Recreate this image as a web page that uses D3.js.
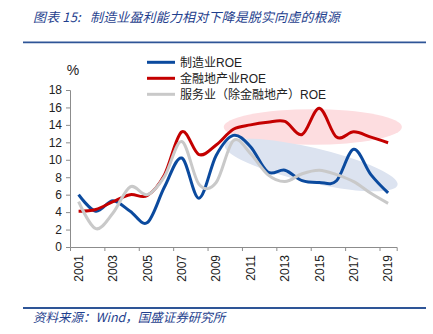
<!DOCTYPE html>
<html>
<head>
<meta charset="utf-8">
<script src="https://cdn.jsdelivr.net/npm/d3@7"></script>
<style>
  html, body { margin: 0; padding: 0; background: #fff; }
  svg { display: block; font-family: "Liberation Sans", Arial, "Noto Sans CJK SC", sans-serif; }
  .cjk { font-family: "Liberation Sans", Arial, "Noto Sans CJK SC", sans-serif; }
</style>
</head>
<body>
<div id="chart"></div>
<script>
// 制造业 / 金融地产业 / 服务业 ROE, 2001–2019 (%)
const YEARS = d3.range(2001, 2020);
const LABEL_YEARS = ["2001","2003","2005","2007","2009","2011","2013","2015","2017","2019"];
const Y_TICKS = [0, 2, 4, 6, 8, 10, 12, 14, 16, 18];

const MANUFACTURING = [6.0, 4.1, 5.3, 4.1, 2.8, 6.9, 10.2, 5.6, 10.5, 12.8, 11.5, 8.6, 8.8, 7.6, 7.4, 7.6, 11.2, 8.3, 6.2];
const FINANCE_RE    = [4.1, 4.3, 5.2, 6.0, 5.9, 8.3, 13.2, 10.6, 11.7, 13.5, 14.0, 14.3, 14.4, 12.9, 15.9, 12.6, 13.2, 12.6, 11.95];
const SERVICES      = [5.2, 2.1, 3.9, 6.9, 6.0, 8.1, 12.1, 7.2, 7.4, 12.2, 10.7, 8.3, 7.5, 8.4, 8.8, 8.3, 7.5, 6.15, 5.0];

const SERIES_NAMES = ["制造业ROE", "金融地产业ROE", "服务业（除金融地产）ROE"];
const COLORS = ["#0B4A9E", "#C40000", "#C9C9C9"];

// highlight bands: [startYear, startValue, endYear, endValue, halfWidth(value units)]
const FIN_BAND = [2009.44, 13.76, 2019.8, 13.76, 2.04];
const MFG_BAND = [2009.5, 11.7, 2019.55, 7.1, 2.0];
const BAND_FILLS = ["#FDDDE0", "#DCE3F0"];

function drawChart() {
  const totalW = 433, totalH = 334;
  const margin = { top: 90, right: 36.3, bottom: 87, left: 70 };
  const W = totalW - margin.left - margin.right;
  const H = totalH - margin.top - margin.bottom;

  const svg = d3.select("#chart").append("svg")
    .attr("width", totalW).attr("height", totalH);

  svg.append("rect").attr("width", totalW).attr("height", totalH).attr("fill", "#fff");

  /* ── Header / footer ── */
  const navy = "#1F3F8E";
  const title = svg.append("text").attr("y", 22)
    .attr("font-size", 13).attr("font-style", "italic").attr("fill", navy)
    .attr("font-family", "\"Noto Sans CJK SC\", sans-serif")
    .attr("letter-spacing", 0.15);
  title.append("tspan").attr("x", 33).text("图表 15:");
  title.append("tspan").attr("x", 90).text("制造业盈利能力相对下降是脱实向虚的根源");

  svg.append("line").attr("x1", 23).attr("x2", 426).attr("y1", 42.3).attr("y2", 42.3)
    .attr("stroke", "#2E5597").attr("stroke-width", 1.8);

  svg.append("line").attr("x1", 23).attr("x2", 426).attr("y1", 308).attr("y2", 308)
    .attr("stroke", "#2E5597").attr("stroke-width", 1.8);
  svg.append("text").attr("x", 33).attr("y", 322)
    .attr("font-size", 12.5).attr("font-style", "italic").attr("fill", navy)
    .attr("font-family", "\"Noto Sans CJK SC\", sans-serif")
    .text("资料来源：Wind，国盛证券研究所");

  const g = svg.append("g").attr("transform", `translate(${margin.left},${margin.top})`);

  /* ── Scales ── */
  const x = d3.scaleLinear().domain([2000.5, 2019.5]).range([0, W]);
  const y = d3.scaleLinear().domain([0, 18]).range([H, 0]);

  /* ── Highlight ellipses ── */
  [FIN_BAND, MFG_BAND].forEach((b, i) => {
    const [x0, v0, x1, v1, hw] = b;
    const px0 = x(x0), py0 = y(v0), px1 = x(x1), py1 = y(v1);
    const rx = Math.hypot(px1 - px0, py1 - py0) / 2;
    const ry = y(0) - y(hw);
    const ang = Math.atan2(py1 - py0, px1 - px0) * 180 / Math.PI;
    g.append("ellipse")
      .attr("transform", `translate(${(px0 + px1) / 2},${(py0 + py1) / 2}) rotate(${ang})`)
      .attr("rx", rx).attr("ry", ry)
      .attr("fill", BAND_FILLS[i]);
  });

  /* ── Axes ── */
  g.append("g")
    .call(d3.axisLeft(y).tickValues(Y_TICKS).tickSize(4).tickPadding(4))
    .call(ax => { ax.select(".domain").attr("stroke", "#8c8c8c"); ax.selectAll("line").attr("stroke", "#8c8c8c"); })
    .selectAll("text").attr("font-size", 12).attr("fill", "#222")
    .attr("font-family", "\"Liberation Sans\", Arial, sans-serif");

  g.append("g").attr("transform", `translate(0,${H})`)
    .call(d3.axisBottom(x).tickValues(d3.range(2002.5, 2019, 2)).tickSize(4).tickFormat(""))
    .call(ax => { ax.select(".domain").attr("stroke", "#8c8c8c"); ax.selectAll("line").attr("stroke", "#8c8c8c"); });

  g.selectAll(".yr").data(LABEL_YEARS).join("text")
    .attr("class", "yr")
    .attr("transform", d => `translate(${x(+d)},${H + 8}) rotate(-90)`)
    .attr("text-anchor", "end").attr("dy", "0.35em")
    .attr("font-size", 12).attr("fill", "#222")
    .attr("font-family", "\"Liberation Sans\", Arial, sans-serif")
    .text(d => d);

  g.append("text").attr("x", 3).attr("y", -15)
    .attr("text-anchor", "middle").attr("font-size", 14).attr("fill", "#222")
    .attr("font-family", "\"Liberation Sans\", Arial, sans-serif")
    .text("%");

  /* ── Lines ── */
  const lineGen = d3.line()
    .x((d, i) => x(YEARS[i]))
    .y(d => y(d))
    .curve(d3.curveCatmullRom.alpha(0));

  [MANUFACTURING, FINANCE_RE, SERVICES].forEach((vals, i) => {
    g.append("path").datum(vals)
      .attr("fill", "none")
      .attr("stroke", COLORS[i])
      .attr("stroke-width", 3)
      .attr("stroke-linejoin", "round")
      .attr("d", lineGen);
  });

  /* ── Legend ── */
  const legend = svg.append("g").attr("transform", "translate(147,62.3)");
  SERIES_NAMES.forEach((name, i) => {
    const row = legend.append("g").attr("transform", `translate(0,${i * 16})`);
    row.append("line").attr("x1", 0).attr("x2", 28)
      .attr("stroke", COLORS[i]).attr("stroke-width", 3);
    row.append("text").attr("x", 33).attr("dy", "0.35em")
      .attr("font-size", 12).attr("fill", "#222")
      .attr("class", "cjk")
      .text(name);
  });
}

drawChart();
</script>
</body>
</html>
